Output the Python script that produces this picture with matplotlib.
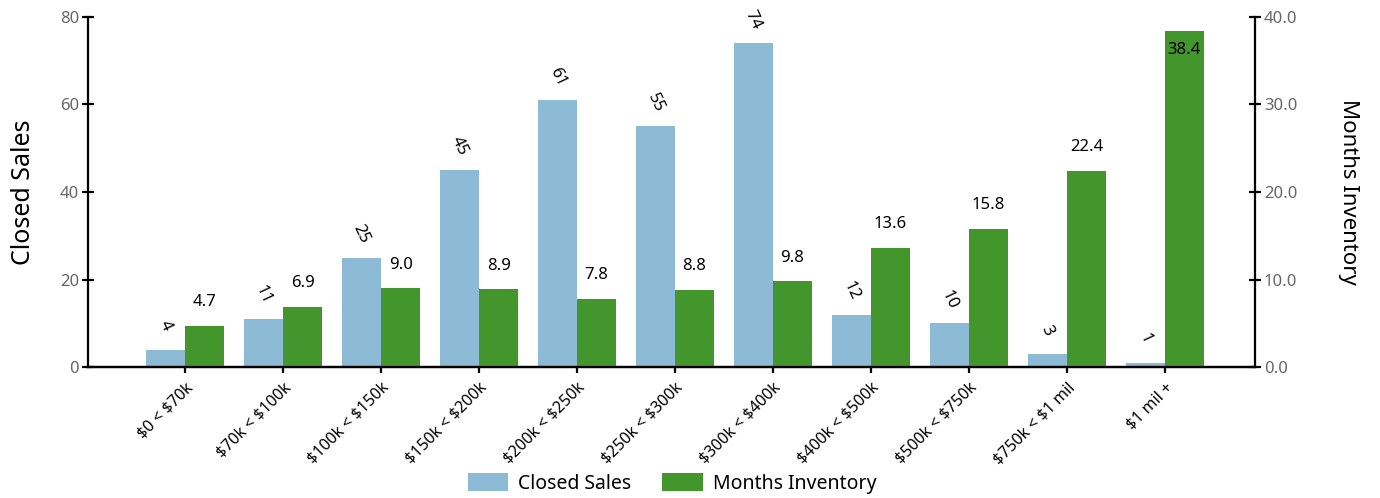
import numpy as np
import matplotlib
matplotlib.use('Agg')
import matplotlib.pyplot as plt

plt.rcParams['font.family'] = ['Noto Sans', 'DejaVu Sans']

# price ranges and values
categories = ['$0 < $70k', '$70k < $100k', '$100k < $150k', '$150k < $200k',
              '$200k < $250k', '$250k < $300k', '$300k < $400k', '$400k < $500k',
              '$500k < $750k', '$750k < $1 mil', '$1 mil +']
closed_sales = [4, 11, 25, 45, 61, 55, 74, 12, 10, 3, 1]
months_inventory = [4.7, 6.9, 9.0, 8.9, 7.8, 8.8, 9.8, 13.6, 15.8, 22.4, 38.4]

blue = '#8dbbd6'
green = '#43962c'

fig = plt.figure(figsize=(13.8, 4.98), dpi=100)
ax = fig.add_axes([0.0638, 0.263, 0.8456, 0.703])
ax2 = ax.twinx()

x = np.arange(len(categories))
w = 0.4
b1 = ax.bar(x - w / 2, closed_sales, w, color=blue, label='Closed Sales')
b2 = ax2.bar(x + w / 2, months_inventory, w, color=green, label='Months Inventory')

ax.set_xlim(-0.99, 10.92)
ax.set_ylim(0, 80)
ax2.set_ylim(0, 40)
ax.set_yticks([0, 20, 40, 60, 80])
ax2.set_yticks([0, 10, 20, 30, 40])
ax2.set_yticklabels([f'{v:.1f}' for v in [0, 10, 20, 30, 40]])

ax.set_xticks(x)
ax.set_xticklabels(categories, rotation=45, ha='right', rotation_mode='anchor',
                   fontsize=11.5)
for t in ax.get_xticklabels():
    t.set_parse_math(False)

for a in (ax, ax2):
    a.spines['top'].set_visible(False)
    a.spines['left'].set_linewidth(1.6)
    a.spines['right'].set_linewidth(1.6)
    a.spines['bottom'].set_linewidth(1.6)
ax.spines['right'].set_visible(False)
ax2.spines['left'].set_visible(False)

ax.tick_params(axis='y', direction='inout', length=9, width=1.6, labelsize=12,
               labelcolor='#666666', pad=2)
ax2.tick_params(axis='y', direction='inout', length=9, width=1.6, labelsize=12,
                labelcolor='#666666', pad=2)
ax.tick_params(axis='x', direction='out', length=4, width=1.6, pad=5)

ax.set_ylabel('Closed Sales', fontsize=18, labelpad=17)
ax2.set_ylabel('Months Inventory', fontsize=16, rotation=270, labelpad=44)

for xi, v in zip(x, closed_sales):
    ax.annotate(str(v), (xi - w / 2, v), xytext=(0, 17), textcoords='offset points',
                ha='center', va='center', rotation=-65, fontsize=12)

for xi, v in zip(x, months_inventory):
    if v > 35:
        ax2.annotate(f'{v:.1f}', (xi + w / 2, v), xytext=(0, -14),
                     textcoords='offset points', ha='center', va='center', fontsize=12)
    else:
        ax2.annotate(f'{v:.1f}', (xi + w / 2, v), xytext=(0, 17),
                     textcoords='offset points', ha='center', va='center', fontsize=12)

fig.legend(handles=[b1, b2], loc='center', bbox_to_anchor=(0.487, 0.03), ncol=2,
           frameon=False, fontsize=14, handlelength=2.1, handleheight=1.1,
           columnspacing=1.6, handletextpad=0.5)

fig.savefig('out.png', dpi=100)
